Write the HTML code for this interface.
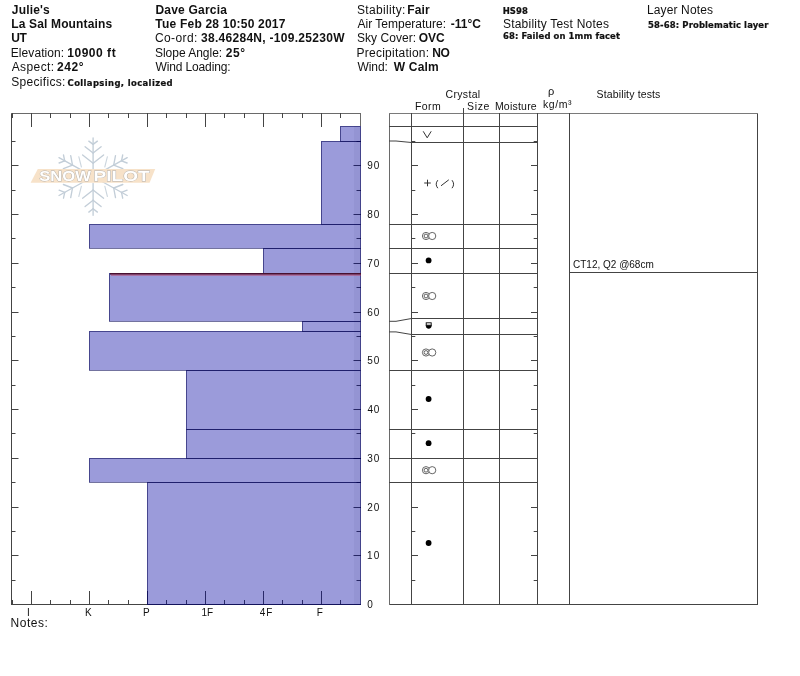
<!DOCTYPE html>
<html lang="en"><head><meta charset="utf-8"><title>Snow Pilot - Julie's</title>
<style>
html,body{margin:0;padding:0;background:#fff;}
body{width:800px;height:676px;overflow:hidden;}
svg{display:block;}
text{font-family:"Liberation Sans",Arial,Helvetica,sans-serif;fill:#111;}
.h{font-size:12px;}
.c{font-size:11px;}
.n{font-size:10px;}
.ln{stroke:#444;stroke-width:1;fill:none;shape-rendering:crispEdges;}
.al{stroke:#444;stroke-width:1;fill:none;}
.sym{stroke:#333;stroke-width:1;fill:none;}
</style></head><body>
<svg width="800" height="676" viewBox="0 0 800 676">
<rect x="0" y="0" width="800" height="676" fill="#ffffff"/>
<text x="11.82" y="14.00" style="font-size:12px;font-weight:bold;letter-spacing:0.175px;" xml:space="preserve">Julie's</text>
<text x="11.20" y="28.00" style="font-size:12px;font-weight:bold;letter-spacing:0.158px;" xml:space="preserve">La Sal Mountains</text>
<text x="11.18" y="42.00" style="font-size:12px;font-weight:bold;letter-spacing:-0.346px;" xml:space="preserve">UT</text>
<text x="10.77" y="57.00" style="font-size:12px;letter-spacing:0.070px;" xml:space="preserve">Elevation:</text>
<text x="67.24" y="57.00" style="font-size:12px;font-weight:bold;letter-spacing:0.530px;" xml:space="preserve">10900 ft</text>
<text x="11.73" y="71.00" style="font-size:12px;letter-spacing:0.392px;" xml:space="preserve">Aspect:</text>
<text x="57.08" y="71.00" style="font-size:12px;font-weight:bold;letter-spacing:0.537px;" xml:space="preserve">242°</text>
<text x="11.21" y="86.00" style="font-size:12px;letter-spacing:0.310px;" xml:space="preserve">Specifics:</text>
<text transform="translate(67.58,86.00) scale(1.060,1)" style="font-size:8px;font-weight:bold;letter-spacing:0.339px;stroke:#111;stroke-width:0.2px;font-family:'DejaVu Sans','Liberation Sans',sans-serif;" xml:space="preserve">Collapsing, localized</text>
<text x="155.45" y="14.00" style="font-size:12px;font-weight:bold;letter-spacing:0.210px;" xml:space="preserve">Dave Garcia</text>
<text x="155.37" y="28.00" style="font-size:12px;font-weight:bold;letter-spacing:0.209px;" xml:space="preserve">Tue Feb 28 10:50 2017</text>
<text x="154.89" y="42.00" style="font-size:12px;letter-spacing:0.407px;" xml:space="preserve">Co-ord:</text>
<text x="200.97" y="42.00" style="font-size:12px;font-weight:bold;letter-spacing:0.291px;" xml:space="preserve">38.46284N, -109.25230W</text>
<text x="154.96" y="57.00" style="font-size:12px;letter-spacing:-0.015px;" xml:space="preserve">Slope Angle:</text>
<text x="225.83" y="57.00" style="font-size:12px;font-weight:bold;letter-spacing:0.518px;" xml:space="preserve">25°</text>
<text x="155.45" y="71.00" style="font-size:12px;letter-spacing:-0.131px;" xml:space="preserve">Wind Loading:</text>
<text x="356.96" y="14.00" style="font-size:12px;letter-spacing:0.338px;" xml:space="preserve">Stability:</text>
<text x="407.20" y="14.00" style="font-size:12px;font-weight:bold;letter-spacing:0.159px;" xml:space="preserve">Fair</text>
<text x="357.48" y="28.00" style="font-size:12px;letter-spacing:0.006px;" xml:space="preserve">Air Temperature:</text>
<text x="450.78" y="28.00" style="font-size:12px;font-weight:bold;letter-spacing:-0.003px;" xml:space="preserve">-11°C</text>
<text x="356.96" y="42.00" style="font-size:12px;letter-spacing:0.051px;" xml:space="preserve">Sky Cover:</text>
<text x="418.76" y="42.00" style="font-size:12px;font-weight:bold;letter-spacing:-0.092px;" xml:space="preserve">OVC</text>
<text x="356.52" y="57.00" style="font-size:12px;letter-spacing:0.247px;" xml:space="preserve">Precipitation:</text>
<text x="432.20" y="57.00" style="font-size:12px;font-weight:bold;letter-spacing:-0.443px;" xml:space="preserve">NO</text>
<text x="357.45" y="71.00" style="font-size:12px;letter-spacing:-0.069px;" xml:space="preserve">Wind:</text>
<text x="393.74" y="71.00" style="font-size:12px;font-weight:bold;letter-spacing:0.200px;" xml:space="preserve">W Calm</text>
<text transform="translate(502.72,14.00) scale(1.060,1)" style="font-size:8px;font-weight:bold;letter-spacing:0.031px;stroke:#111;stroke-width:0.2px;font-family:'DejaVu Sans','Liberation Sans',sans-serif;" xml:space="preserve">HS98</text>
<text x="502.96" y="28.00" style="font-size:12px;letter-spacing:0.216px;" xml:space="preserve">Stability Test Notes</text>
<text transform="translate(502.97,39.00) scale(1.060,1)" style="font-size:8px;font-weight:bold;letter-spacing:0.077px;stroke:#111;stroke-width:0.2px;font-family:'DejaVu Sans','Liberation Sans',sans-serif;" xml:space="preserve">68: Failed on 1mm facet</text>
<text x="647.02" y="14.00" style="font-size:12px;letter-spacing:0.122px;" xml:space="preserve">Layer Notes</text>
<text transform="translate(648.10,28.00) scale(1.060,1)" style="font-size:8px;font-weight:bold;letter-spacing:0.110px;stroke:#111;stroke-width:0.2px;font-family:'DejaVu Sans','Liberation Sans',sans-serif;" xml:space="preserve">58-68: Problematic layer</text>
<text x="445.47" y="98.00" style="font-size:10.5px;letter-spacing:0.344px;" xml:space="preserve">Crystal</text>
<text x="414.89" y="110.00" style="font-size:10.5px;letter-spacing:0.436px;" xml:space="preserve">Form</text>
<text x="467.02" y="110.00" style="font-size:10.5px;letter-spacing:0.673px;" xml:space="preserve">Size</text>
<text x="494.89" y="110.00" style="font-size:10.5px;letter-spacing:0.224px;" xml:space="preserve">Moisture</text>
<text x="548.0" y="95" class="c" xml:space="preserve">ρ</text>
<text x="543.04" y="108.00" style="font-size:10.5px;letter-spacing:0.541px;" xml:space="preserve">kg/m³</text>
<text x="596.52" y="98.00" style="font-size:10.5px;letter-spacing:0.143px;" xml:space="preserve">Stability tests</text>
<g id="logo">
<g stroke="#c3ced8" stroke-width="1.35" fill="none" stroke-linecap="round">
<line x1="93.1" y1="169.6" x2="93.1" y2="138.0"/><line x1="93.1" y1="144.4" x2="88.8" y2="141.1"/><line x1="93.1" y1="144.4" x2="97.4" y2="141.1"/><line x1="93.1" y1="153.0" x2="85.1" y2="146.7"/><line x1="93.1" y1="153.0" x2="101.1" y2="146.7"/><line x1="93.1" y1="163.2" x2="82.6" y2="155.0"/><line x1="93.1" y1="163.2" x2="103.6" y2="155.0"/>
<line x1="93.1" y1="183.6" x2="93.1" y2="215.2"/><line x1="93.1" y1="208.8" x2="97.4" y2="212.1"/><line x1="93.1" y1="208.8" x2="88.8" y2="212.1"/><line x1="93.1" y1="200.2" x2="101.1" y2="206.5"/><line x1="93.1" y1="200.2" x2="85.1" y2="206.5"/><line x1="93.1" y1="190.0" x2="103.6" y2="198.2"/><line x1="93.1" y1="190.0" x2="82.6" y2="198.2"/>
<line x1="99.2" y1="173.2" x2="127.2" y2="157.7"/><line x1="121.5" y1="160.8" x2="122.7" y2="155.0"/><line x1="121.5" y1="160.8" x2="127.1" y2="163.0"/><line x1="113.7" y1="165.2" x2="115.5" y2="155.6"/><line x1="113.7" y1="165.2" x2="122.8" y2="168.7"/>
<line x1="99.2" y1="180.0" x2="127.2" y2="195.5"/><line x1="121.5" y1="192.4" x2="127.1" y2="190.2"/><line x1="121.5" y1="192.4" x2="122.7" y2="198.2"/><line x1="113.7" y1="188.0" x2="122.8" y2="184.5"/><line x1="113.7" y1="188.0" x2="115.5" y2="197.6"/>
<line x1="87.0" y1="180.0" x2="59.0" y2="195.5"/><line x1="64.7" y1="192.4" x2="63.5" y2="198.2"/><line x1="64.7" y1="192.4" x2="59.1" y2="190.2"/><line x1="72.5" y1="188.0" x2="70.7" y2="197.6"/><line x1="72.5" y1="188.0" x2="63.4" y2="184.5"/>
<line x1="87.0" y1="173.2" x2="59.0" y2="157.7"/><line x1="64.7" y1="160.8" x2="59.1" y2="163.0"/><line x1="64.7" y1="160.8" x2="63.5" y2="155.0"/><line x1="72.5" y1="165.2" x2="63.4" y2="168.7"/><line x1="72.5" y1="165.2" x2="70.7" y2="155.6"/>
</g>
<g stroke="#ccd6de" stroke-width="1.1" fill="none" stroke-linecap="round">
<line x1="78.8" y1="156.7" x2="81.4" y2="167.0"/><line x1="78.8" y1="196.5" x2="81.4" y2="186.2"/><line x1="107.4" y1="156.7" x2="104.8" y2="167.0"/><line x1="107.4" y1="196.5" x2="104.8" y2="186.2"/></g>
<polygon points="37.8,168.9 155.2,168.9 149.6,182.7 30.6,182.7" fill="#f7e2c9"/>
<text y="181.3" style="font-size:14px;font-weight:bold;fill:#ffffff;stroke:#b5b1ac;stroke-width:0.8px;paint-order:stroke;" xml:space="preserve"><tspan x="39.3" textLength="51.6" lengthAdjust="spacingAndGlyphs">SNOW</tspan><tspan x="90.9" textLength="3" lengthAdjust="spacingAndGlyphs"> </tspan><tspan x="93.6" textLength="56" lengthAdjust="spacingAndGlyphs">PILOT</tspan></text>
</g>
<g id="axes" class="ln">
<path d="M361 604.5 H11.5 V113.5"/>
<path d="M360.5 113 V126" stroke="#6a6a6a"/>
<path d="M11 113.5 H361" stroke="#6a6a6a"/>
<path d="M31.5 113 v14 M31.5 605 v-14 M50.5 113 v5 M50.5 605 v-5 M70.5 113 v5 M70.5 605 v-5 M89.5 113 v14 M89.5 605 v-14 M108.5 113 v5 M108.5 605 v-5 M128.5 113 v5 M128.5 605 v-5 M147.5 113 v14 M147.5 605 v-14 M166.5 113 v5 M166.5 605 v-5 M186.5 113 v5 M186.5 605 v-5 M205.5 113 v14 M205.5 605 v-14 M224.5 113 v5 M224.5 605 v-5 M244.5 113 v5 M244.5 605 v-5 M263.5 113 v14 M263.5 605 v-14 M282.5 113 v5 M282.5 605 v-5 M302.5 113 v5 M302.5 605 v-5 M321.5 113 v14 M321.5 605 v-14 M340.5 113 v5 M340.5 605 v-5 M12.5 113 v5 M12.5 605 v-5 "/>
<path d="M11 580.5 h4.5 M361 580.5 h-4.5 M11 555.5 h7.5 M361 555.5 h-7.5 M11 531.5 h4.5 M361 531.5 h-4.5 M11 507.5 h7.5 M361 507.5 h-7.5 M11 482.5 h4.5 M361 482.5 h-4.5 M11 458.5 h7.5 M361 458.5 h-7.5 M11 433.5 h4.5 M361 433.5 h-4.5 M11 409.5 h7.5 M361 409.5 h-7.5 M11 385.5 h4.5 M361 385.5 h-4.5 M11 360.5 h7.5 M361 360.5 h-7.5 M11 336.5 h4.5 M361 336.5 h-4.5 M11 312.5 h7.5 M361 312.5 h-7.5 M11 287.5 h4.5 M361 287.5 h-4.5 M11 263.5 h7.5 M361 263.5 h-7.5 M11 238.5 h4.5 M361 238.5 h-4.5 M11 214.5 h7.5 M361 214.5 h-7.5 M11 190.5 h4.5 M361 190.5 h-4.5 M11 165.5 h7.5 M361 165.5 h-7.5 M11 141.5 h4.5 M361 141.5 h-4.5 " shape-rendering="auto"/>
</g>
<g id="bars" shape-rendering="crispEdges">
<rect x="340" y="126" width="21" height="15" fill="rgba(0,0,160,0.392)"/>
<rect x="321" y="141" width="40" height="83" fill="rgba(0,0,160,0.392)"/>
<rect x="89" y="224" width="272" height="24" fill="rgba(0,0,160,0.392)"/>
<rect x="263" y="248" width="98" height="25" fill="rgba(0,0,160,0.392)"/>
<rect x="109" y="273" width="252" height="48" fill="rgba(0,0,160,0.392)"/>
<rect x="302" y="321" width="59" height="10" fill="rgba(0,0,160,0.392)"/>
<rect x="89" y="331" width="272" height="39" fill="rgba(0,0,160,0.392)"/>
<rect x="186" y="370" width="175" height="59" fill="rgba(0,0,160,0.392)"/>
<rect x="186" y="429" width="175" height="29" fill="rgba(0,0,160,0.392)"/>
<rect x="89" y="458" width="272" height="24" fill="rgba(0,0,160,0.392)"/>
<rect x="147" y="482" width="214" height="123" fill="rgba(0,0,160,0.392)"/>
<rect x="354" y="126" width="7" height="479" fill="rgba(0,0,60,0.04)"/>
<g fill="none" stroke="rgba(0,0,80,0.55)" stroke-width="1">
<rect x="340.5" y="126.5" width="20.0" height="15.0"/>
<rect x="321.5" y="141.5" width="39.0" height="83.0"/>
<rect x="89.5" y="224.5" width="271.0" height="24.0"/>
<rect x="263.5" y="248.5" width="97.0" height="25.0"/>
<rect x="109.5" y="273.5" width="251.0" height="48.0"/>
<rect x="302.5" y="321.5" width="58.0" height="10.0"/>
<rect x="89.5" y="331.5" width="271.0" height="39.0"/>
<rect x="186.5" y="370.5" width="174.0" height="59.0"/>
<rect x="186.5" y="429.5" width="174.0" height="29.0"/>
<rect x="89.5" y="458.5" width="271.0" height="24.0"/>
<rect x="147.5" y="482.5" width="213.0" height="122.0"/>
</g>
<rect x="110" y="273.0" width="251" height="1.6" fill="#481030" shape-rendering="auto"/>
<rect x="111" y="274.6" width="250" height="1.0" fill="rgba(190,55,85,0.7)" shape-rendering="auto"/>
</g>
<text x="367.31" y="608.00" style="font-size:10px;letter-spacing:0.000px;" xml:space="preserve">0</text>
<text x="366.94" y="559.00" style="font-size:10px;letter-spacing:1.229px;" xml:space="preserve">10</text>
<text x="367.20" y="511.00" style="font-size:10px;letter-spacing:0.971px;" xml:space="preserve">20</text>
<text x="367.32" y="462.00" style="font-size:10px;letter-spacing:0.848px;" xml:space="preserve">30</text>
<text x="367.47" y="413.00" style="font-size:10px;letter-spacing:0.697px;" xml:space="preserve">40</text>
<text x="367.30" y="364.00" style="font-size:10px;letter-spacing:0.868px;" xml:space="preserve">50</text>
<text x="367.19" y="316.00" style="font-size:10px;letter-spacing:0.975px;" xml:space="preserve">60</text>
<text x="367.19" y="267.00" style="font-size:10px;letter-spacing:0.980px;" xml:space="preserve">70</text>
<text x="367.27" y="218.00" style="font-size:10px;letter-spacing:0.902px;" xml:space="preserve">80</text>
<text x="367.23" y="169.00" style="font-size:10px;letter-spacing:0.936px;" xml:space="preserve">90</text>
<text x="27.08" y="616.00" style="font-size:10px;letter-spacing:0.000px;" xml:space="preserve">I</text>
<text x="84.93" y="616.00" style="font-size:10px;letter-spacing:0.000px;" xml:space="preserve">K</text>
<text x="142.93" y="616.00" style="font-size:10px;letter-spacing:0.000px;" xml:space="preserve">P</text>
<text x="201.54" y="616.00" style="font-size:10px;letter-spacing:-0.108px;" xml:space="preserve">1F</text>
<text x="259.77" y="616.00" style="font-size:10px;letter-spacing:0.960px;" xml:space="preserve">4F</text>
<text x="316.78" y="616.00" style="font-size:10px;letter-spacing:0.000px;" xml:space="preserve">F</text>
<text x="10.62" y="627.00" style="font-size:12px;letter-spacing:0.520px;" xml:space="preserve">Notes:</text>
<g id="table" class="ln">
<path d="M757.5 113 V604.5 H389"/>
<path d="M389.5 113 V605" stroke="#6a6a6a"/>
<path d="M389 113.5 H758" stroke="#7a7a7a"/>
<path d="M411.5 113 V605 M463.5 108 V605 M499.5 113 V605 M537.5 113 V605 M569.5 113 V605"/>
</g>
<g class="ln">
<path d="M411 126.5 H538 M411 142.5 H538 M411 224.5 H538 M411 248.5 H538 M411 273.5 H538 M411 318.5 H538 M411 334.5 H538 M411 370.5 H538 M411 429.5 H538 M411 458.5 H538 M411 482.5 H538 "/>
<path d="M569 272.5 H758"/>
</g>
<g class="al">
<path d="M389 126.5 H411" shape-rendering="crispEdges"/>
<path d="M389 141.0 H396 L411.5 142.5"/>
<path d="M389 224.5 H411" shape-rendering="crispEdges"/>
<path d="M389 248.5 H411" shape-rendering="crispEdges"/>
<path d="M389 273.5 H411" shape-rendering="crispEdges"/>
<path d="M389 321.3 H396 L411.5 318.5"/>
<path d="M389 331.9 H396 L411.5 334.5"/>
<path d="M389 370.5 H411" shape-rendering="crispEdges"/>
<path d="M389 429.5 H411" shape-rendering="crispEdges"/>
<path d="M389 458.5 H411" shape-rendering="crispEdges"/>
<path d="M389 482.5 H411" shape-rendering="crispEdges"/>
</g>
<g class="ln">
<path d="M412 580.5 h3.3 M537 580.5 h-3.3 M412 555.5 h6.0 M537 555.5 h-6.0 M412 531.5 h3.3 M537 531.5 h-3.3 M412 507.5 h6.0 M537 507.5 h-6.0 M412 482.5 h3.3 M537 482.5 h-3.3 M412 458.5 h6.0 M537 458.5 h-6.0 M412 433.5 h3.3 M537 433.5 h-3.3 M412 409.5 h6.0 M537 409.5 h-6.0 M412 385.5 h3.3 M537 385.5 h-3.3 M412 360.5 h6.0 M537 360.5 h-6.0 M412 336.5 h3.3 M537 336.5 h-3.3 M412 312.5 h6.0 M537 312.5 h-6.0 M412 287.5 h3.3 M537 287.5 h-3.3 M412 263.5 h6.0 M537 263.5 h-6.0 M412 238.5 h3.3 M537 238.5 h-3.3 M412 214.5 h6.0 M537 214.5 h-6.0 M412 190.5 h3.3 M537 190.5 h-3.3 M412 165.5 h6.0 M537 165.5 h-6.0 M412 141.5 h3.3 M537 141.5 h-3.3 " shape-rendering="auto"/>
</g>
<path class="sym" d="M423.2 131.3 L427.2 137.8 L431.2 131.3" stroke-linejoin="miter"/>
<path class="sym" d="M424.2 183 H430.8 M427.5 179.7 V186.3"/>
<path class="sym" d="M437.8 180.2 Q434.6 184.2 437.8 188.2 M452 180.2 Q455.2 184.2 452 188.2 M441 185.8 L448.8 179.8" stroke-width="0.9"/>
<g stroke="#555" stroke-width="0.9" fill="none"><circle cx="426.0" cy="236.0" r="3.6"/><circle cx="426.0" cy="236.0" r="1.9"/><circle cx="432.2" cy="236.0" r="3.6" fill="#fff"/></g>
<circle cx="428.6" cy="260.4" r="2.9" fill="#000"/>
<g stroke="#555" stroke-width="0.9" fill="none"><circle cx="426.0" cy="296.0" r="3.6"/><circle cx="426.0" cy="296.0" r="1.9"/><circle cx="432.2" cy="296.0" r="3.6" fill="#fff"/></g>
<path d="M426 325.2 A2.7 3.2 0 0 0 431.4 325.2 Z" fill="#000" stroke="#000" stroke-width="0.6"/>
<rect x="426.2" y="322.8" width="5" height="2.4" fill="#fff" stroke="#000" stroke-width="0.9"/>
<g stroke="#555" stroke-width="0.9" fill="none"><circle cx="426.0" cy="352.5" r="3.6"/><circle cx="426.0" cy="352.5" r="1.9"/><circle cx="432.2" cy="352.5" r="3.6" fill="#fff"/></g>
<circle cx="428.6" cy="399.0" r="2.9" fill="#000"/>
<circle cx="428.6" cy="443.2" r="2.9" fill="#000"/>
<g stroke="#555" stroke-width="0.9" fill="none"><circle cx="426.0" cy="470.2" r="3.6"/><circle cx="426.0" cy="470.2" r="1.9"/><circle cx="432.2" cy="470.2" r="3.6" fill="#fff"/></g>
<circle cx="428.6" cy="543.0" r="2.9" fill="#000"/>
<text x="573" y="268.3" class="n" xml:space="preserve">CT12, Q2 @68cm</text>
</svg>
</body></html>
